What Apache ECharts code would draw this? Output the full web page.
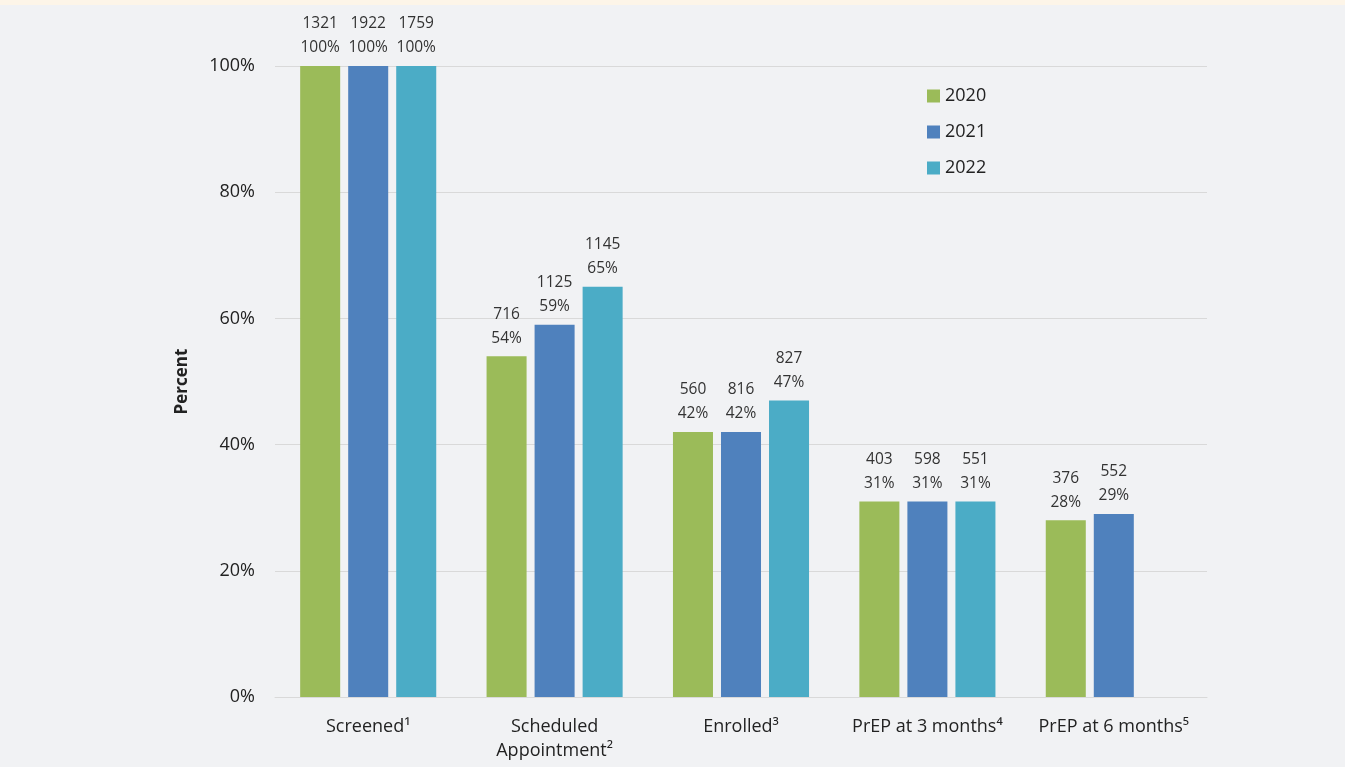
<!DOCTYPE html>
<html>
<head>
<meta charset="utf-8">
<script src="https://cdn.jsdelivr.net/npm/echarts@6/dist/echarts.min.js"></script>
<style>
    html, body { margin: 0; padding: 0; background: #f1f2f4; }
    #strip { height: 5px; background: #fdf5e8; }
    #chart { width: 1345px; height: 762px; }
</style>
</head>
<body>
<div id="strip"></div>
<div id="chart"></div>
<script>
// 数据
let categories = ['Screened¹', 'Scheduled\nAppointment²', 'Enrolled³', 'PrEP at 3 months⁴', 'PrEP at 6 months⁵'];
let years = ['2020', '2021', '2022'];
let pct2020 = [100, 54, 42, 31, 28];
let pct2021 = [100, 59, 42, 31, 29];
let pct2022 = [100, 65, 47, 31, null];
let count2020 = [1321, 716, 560, 403, 376];
let count2021 = [1922, 1125, 816, 598, 552];
let count2022 = [1759, 1145, 827, 551, null];
let colors = ['#9bbb59', '#4f81bd', '#4bacc6'];

let pcts = [pct2020, pct2021, pct2022];
let counts = [count2020, count2021, count2022];

let chart = echarts.init(document.getElementById('chart'));

// 生成系列
let series = years.map((y, i) => ({
    name: y,
    type: 'bar',
    barGap: '20%',
    barCategoryGap: '27%',
    data: pcts[i].map(v => v === null ? '-' : v),
    itemStyle: { color: colors[i] },
    label: {
        show: true,
        position: 'top',
        distance: 6,
        color: '#333',
        fontSize: 15.5,
        lineHeight: 24,
        fontFamily: 'Open Sans',
        formatter: p => counts[i][p.dataIndex] + '\n' + p.value + '%'
    }
}));

let option = {
    backgroundColor: '#f1f2f4',
    animation: false,
    grid: { left: 275, right: 138, top: 61, bottom: 70 },
    legend: {
        orient: 'vertical',
        left: 922,
        top: 77,
        itemWidth: 13,
        itemHeight: 13,
        itemGap: 18,
        icon: 'rect',
        textStyle: { fontSize: 18, color: '#222', fontFamily: 'Open Sans' },
        data: years
    },
    xAxis: {
        type: 'category',
        data: categories,
        axisLine: { lineStyle: { color: '#d9d9d9' } },
        axisTick: { show: false },
        axisLabel: { interval: 0, fontSize: 18, color: '#222', fontFamily: 'Open Sans', margin: 18, lineHeight: 24 }
    },
    yAxis: {
        type: 'value',
        min: 0,
        max: 100,
        interval: 20,
        name: 'Percent',
        nameLocation: 'middle',
        nameGap: 84,
        nameTextStyle: { fontSize: 17, fontWeight: 'bold', color: '#222', fontFamily: 'Open Sans' },
        axisLabel: { formatter: '{value}%', fontSize: 18, color: '#222', fontFamily: 'Open Sans', margin: 20 },
        splitLine: { lineStyle: { color: '#d9d9d9' } }
    },
    series: series
};

chart.setOption(option);
</script>
</body>
</html>
